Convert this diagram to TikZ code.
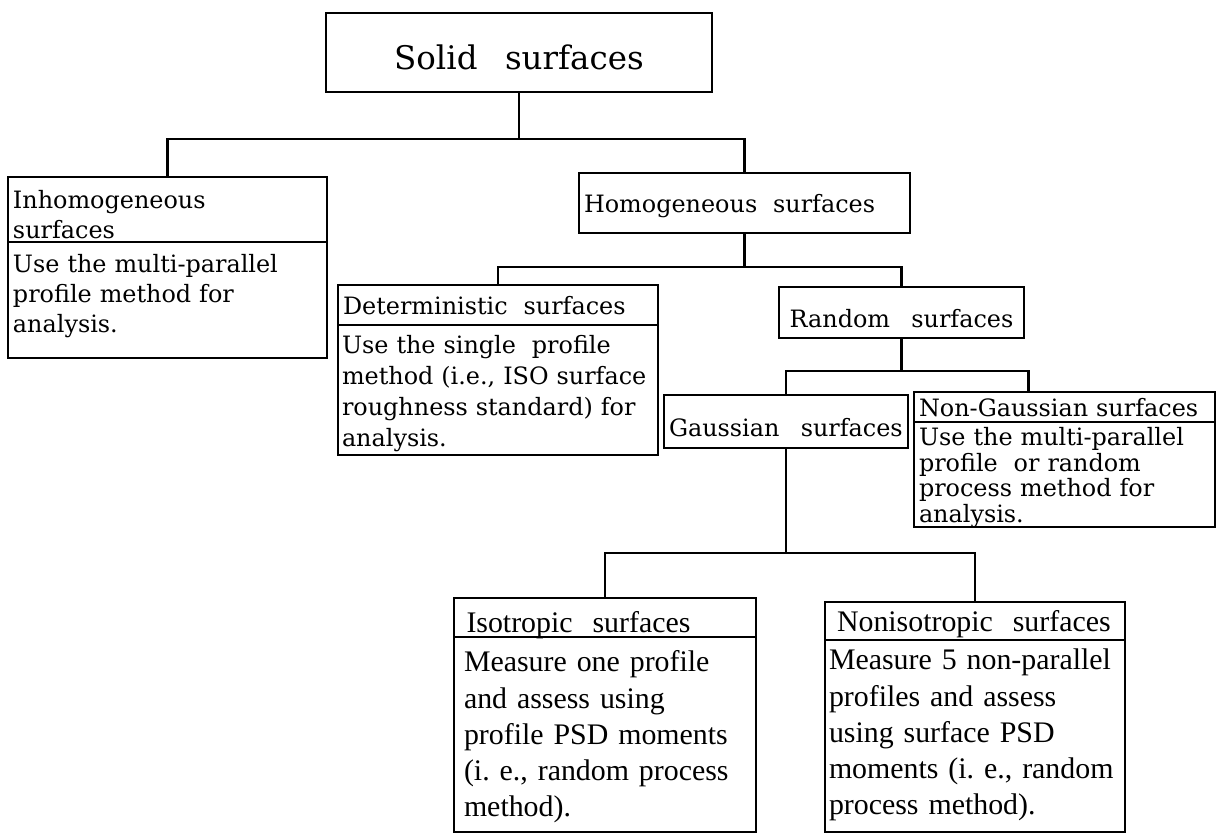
\documentclass[tikz,border=0pt]{standalone}
\usepackage{fontspec}
\setmainfont{DejaVu Serif}[WordSpace=1.4]
\newfontfamily\lowerfont{Liberation Serif}[WordSpace=1.6]
\usepackage{tikz}
\usetikzlibrary{positioning}
\tikzset{box/.style={draw, line width=1.4pt, outer sep=0pt, anchor=north west, inner xsep=0.1cm, inner ysep=0pt, align=left, font=\fontsize{13.6pt}{17pt}\selectfont}}
\tikzset{titlebox/.style={box, text depth=0pt}}
\tikzset{textbox/.style={box, text height=0pt}}
\tikzset{lowbox/.style={box, font=\lowerfont\fontsize{17pt}{20.5pt}\selectfont}}
\tikzset{link/.style={line width=1.4pt}}

\begin{document}
\begin{tikzpicture}[x=0.02cm, y=-0.02cm]
{
\useasboundingbox (0,0) rectangle (1225,835);
\node[titlebox, align=center, text height=0.7cm, minimum width=7.72cm, minimum height=1.58cm, font=\fontsize{18.5pt}{22pt}\selectfont] (solid) at (326,13) {Solid\hspace{0.55cm}surfaces};
\node[titlebox, text depth=0.4cm, text width=6.18cm, minimum height=1.3cm] (inhtitle) at (8,177) {Inhomogeneous\\surfaces};
\node[textbox, text depth=1.08cm, text width=6.18cm, minimum height=2.32cm, below=0pt of inhtitle.south west, anchor=north west] (inhbody) {Use the multi-parallel\\profile method for\\analysis.};
\node[titlebox, text width=6.42cm, minimum height=1.2cm] (homo) at (579,173) {Homogeneous\ \ surfaces};
\node[titlebox, text height=0.4cm, text width=6.2cm, minimum height=0.8cm] (dettitle) at (338,285) {Deterministic\ \ surfaces};
\node[textbox, inner xsep=0.08cm, text depth=1.44cm, text width=6.24cm, minimum height=2.6cm, font=\fontsize{13.6pt}{17.5pt}\selectfont, below=0pt of dettitle.south west, anchor=north west] (detbody) {Use the single\ \ profile\\method~(i.e.,~ISO~surface\\roughness~standard)~for\\analysis.};
\node[titlebox, align=center, text height=0.62cm, minimum width=4.9cm, minimum height=1.02cm] (random) at (779,287) {Random\ \ surfaces};
\node[titlebox, align=center, text height=0.62cm, minimum width=4.86cm, minimum height=1.06cm] (gauss) at (664,395) {Gaussian\ \ surfaces};
\node[titlebox, text height=0.4cm, text width=5.82cm, minimum height=0.6cm] (ngtitle) at (914,392) {Non-Gaussian surfaces};
\node[textbox, text depth=1.14cm, text width=5.82cm, minimum height=2.1cm, font=\fontsize{13.6pt}{14.5pt}\selectfont, below=0pt of ngtitle.south west, anchor=north west] (ngbody) {Use the multi-parallel\\profile\ \ or random\\process method for\\analysis.};
\node[lowbox, text height=0.62cm, text depth=0pt, inner xsep=0.25cm, text width=5.54cm, minimum height=0.78cm] (isotitle) at (454,598) {Isotropic\ \ surfaces};
\node[lowbox, inner xsep=0.2cm, text height=0pt, text depth=2.5cm, text width=5.64cm, minimum height=3.9cm, below=0pt of isotitle.south west, anchor=north west] (isobody) {Measure one profile\\and assess using\\profile PSD moments\\(i.~e.,~random~process\\method).};
\node[lowbox, text height=0.44cm, text depth=0pt, inner xsep=0.24cm, text width=5.52cm, minimum height=0.76cm] (nisotitle) at (825,602) {Nonisotropic\ \ surfaces};
\node[lowbox, inner xsep=0.08cm, text height=0pt, text depth=2.64cm, text width=5.84cm, minimum height=3.84cm, below=0pt of nisotitle.south west, anchor=north west] (nisobody) {Measure~5~non-parallel\\profiles and assess\\using surface PSD\\moments~(i.~e.,~random\\process method).};

\draw[link] (solid.south) -- ++(0,47) coordinate (top);
\draw[link] (inhtitle.north) |- (top) -| (homo.north);
\draw[link] (homo.south) -- ++(0,34) coordinate (mid);
\draw[link] (dettitle.north) |- (mid) -| (random.north);
\draw[link] (random.south) -- ++(0,33) coordinate (low);
\draw[link] (gauss.north) |- (low) -| ([xshift=-0.72cm]ngtitle.north);
\draw[link] (gauss.south) -- ++(0,105) coordinate (base);
\draw[link] (isotitle.north) |- (base) -| (nisotitle.north);
}
\end{tikzpicture}
\end{document}
